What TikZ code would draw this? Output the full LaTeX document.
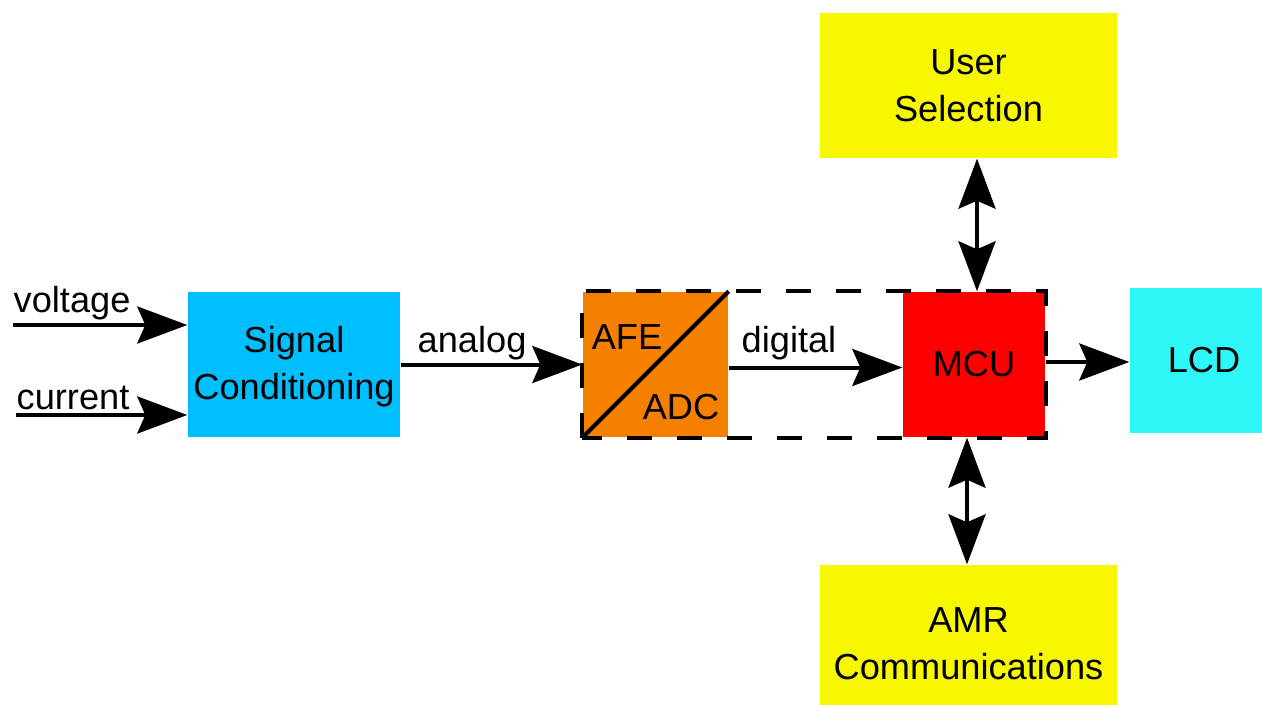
\documentclass[tikz,border=0pt]{standalone}
\usepackage{fontspec}
\setmainfont{Liberation Sans}
\usetikzlibrary{arrows.meta}
\definecolor{selyellow}{RGB}{247,247,0}
\definecolor{sigblue}{RGB}{0,191,255}
\definecolor{afeorange}{RGB}{245,128,0}
\definecolor{mcured}{RGB}{255,0,0}
\definecolor{lcdcyan}{RGB}{46,247,247}
\tikzset{
  blk/.style     = {rectangle,inner sep=0pt,align=center,
                    font=\fontsize{10.3}{13.4}\selectfont},
  sigarr/.style  = {-{Stealth[length=5mm,width=3.7mm,inset=0.8mm]},line width=0.4mm},
  busarr/.style  = {{Stealth[length=5mm,width=3.7mm,inset=0.8mm]}-{Stealth[length=5mm,width=3.7mm,inset=0.8mm]},line width=0.4mm},
  lbl/.style     = {anchor=base west,inner sep=0pt,font=\fontsize{10.3}{13.4}\selectfont}
}

\begin{document}
\begin{tikzpicture}
  \useasboundingbox (0,0) rectangle (12.62,7.04);
  % blocks
  \node[blk,fill=selyellow,minimum width=2.97cm,minimum height=1.45cm] (usel) at (9.685,6.185) {User\\Selection};
  \node[blk,fill=sigblue,minimum width=2.12cm,minimum height=1.45cm,text depth=0.3mm] (sigc) at (2.94,3.395) {Signal\\Conditioning};
  \node[blk,fill=afeorange,minimum width=1.45cm,minimum height=1.45cm] (afe)  at (6.555,3.395) {};
  \node[blk,fill=mcured,minimum width=1.42cm,minimum height=1.45cm]    (mcu)  at (9.74,3.395)  {MCU};
  \node[blk,fill=lcdcyan,minimum width=1.48cm,minimum height=1.45cm,text width=1.32cm] (lcd) at (12.04,3.435) {LCD};
  \node[blk,fill=selyellow,minimum width=2.97cm,minimum height=1.58cm] (amr)  at (9.685,0.60) {AMR\\Communications};
  % converter
  \draw[line width=0.4mm] (afe.south west) -- (afe.north east);
  \node[blk] (afetxt) at (6.27,3.67) {AFE};
  \node[blk] (adctxt) at (6.81,2.97) {ADC};
  \draw[line width=0.4mm,dash pattern=on 2.5mm off 2.5mm] (afe.south west) rectangle (mcu.north east);
  % signals
  \coordinate (vin) at (0.13,3.79);
  \coordinate (iin) at (0.16,2.89);
  \draw[sigarr] (vin) -- (vin -| sigc.west);
  \draw[sigarr] (iin) -- (iin -| sigc.west);
  \draw[sigarr] (sigc.east) -- (afe.west);
  \draw[sigarr] ([yshift=-0.3mm]afe.east) -- ([yshift=-0.3mm]mcu.west);
  \draw[sigarr] ([yshift=0.25mm]mcu.east) -- ([yshift=0.25mm]mcu.east -| lcd.west);
  \draw[busarr] ([xshift=0.3mm]mcu.north) -- ([xshift=0.3mm]mcu.north |- usel.south);
  \draw[busarr] ([xshift=-0.7mm]mcu.south) -- ([xshift=-0.7mm]mcu.south |- amr.north);
  % labels
  \node[lbl] (vlbl) at (0.13,3.92) {voltage};
  \node[lbl] (ilbl) at (0.16,2.95) {current};
  \node[lbl] (albl) at (4.17,3.52) {analog};
  \node[lbl] (dlbl) at (7.41,3.52) {digital};
\end{tikzpicture}
\end{document}
